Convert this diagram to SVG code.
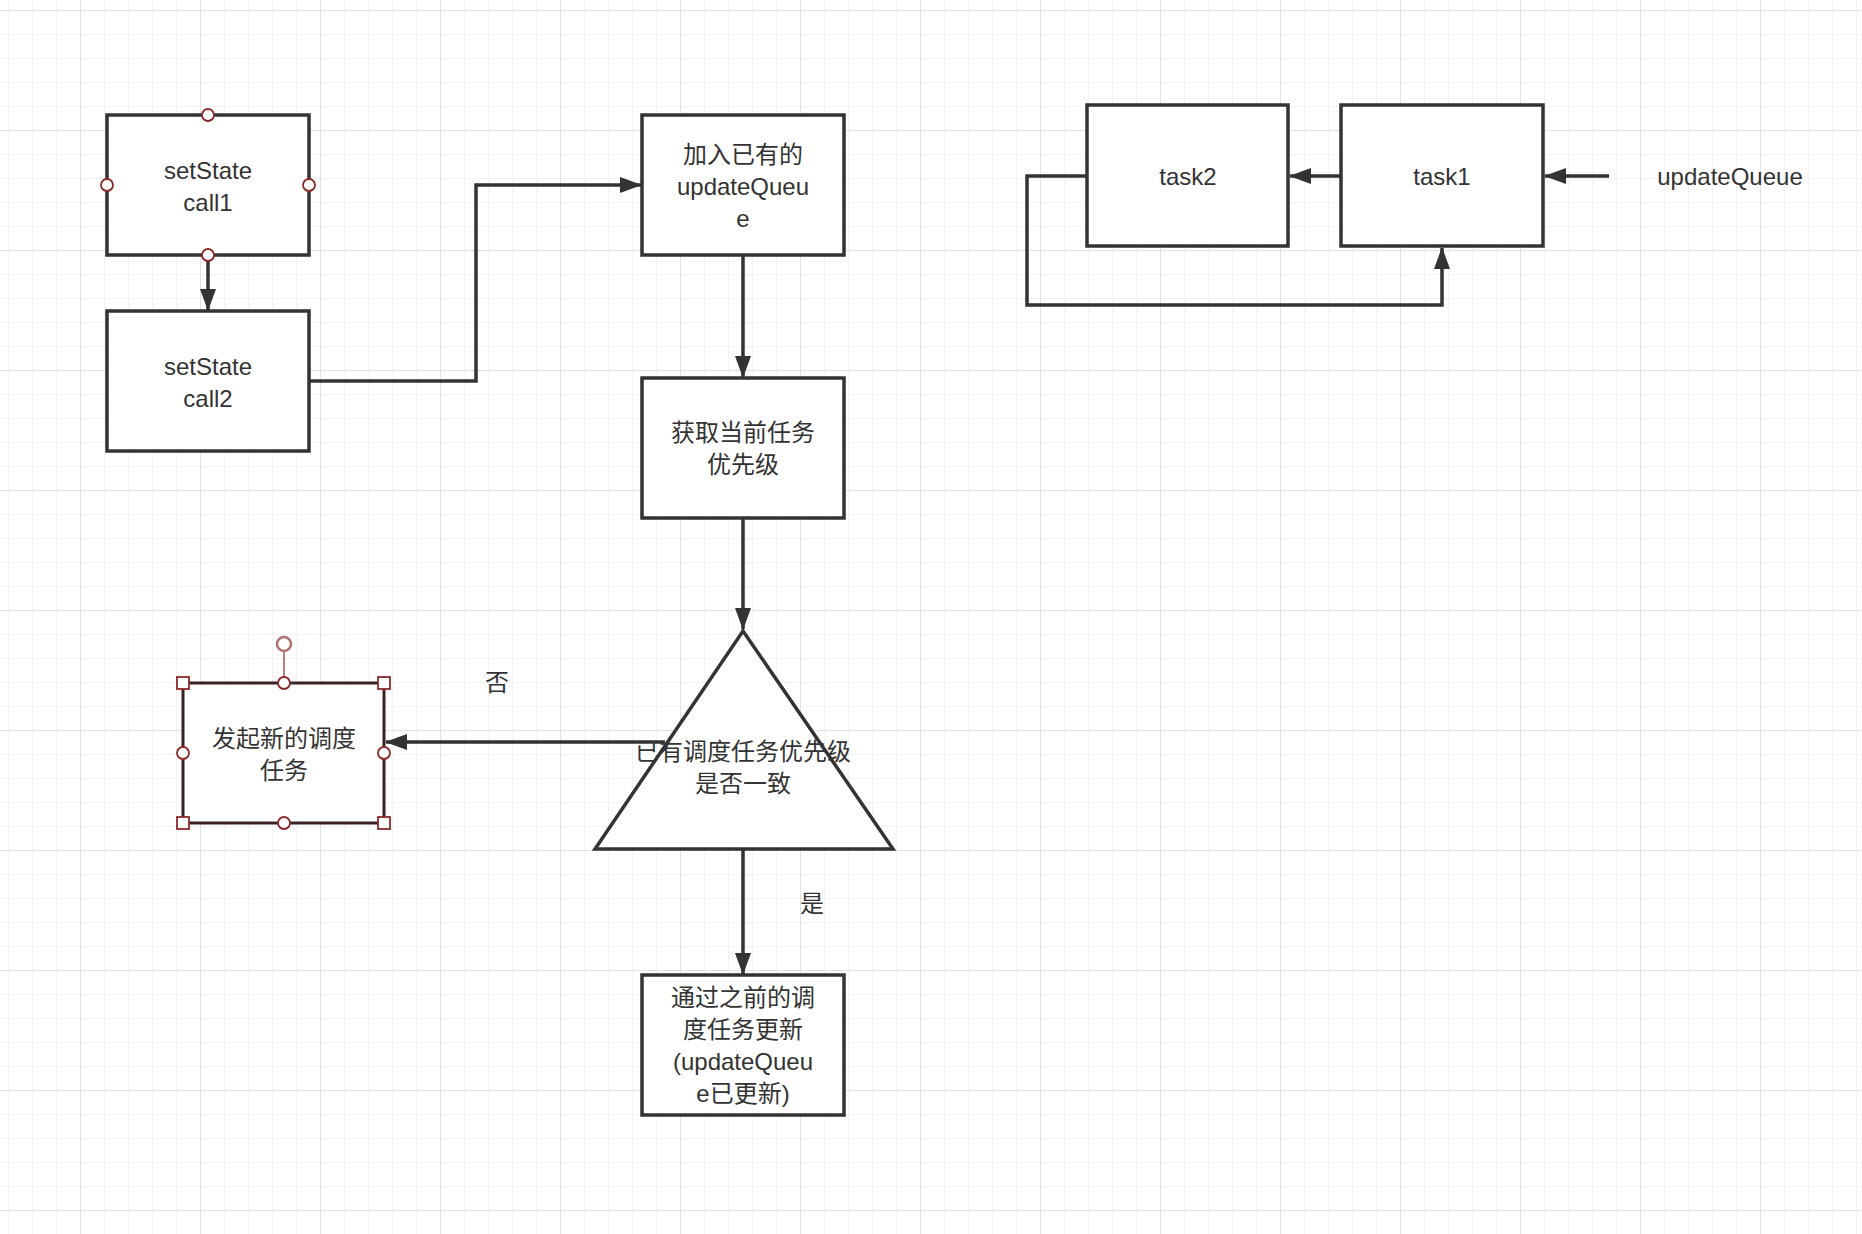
<svg xmlns="http://www.w3.org/2000/svg" width="1862" height="1234" viewBox="0 0 1862 1234">
<defs>
<pattern id="minor" x="8" y="10" width="24" height="24" patternUnits="userSpaceOnUse"><path d="M0 0H24M0 0V24" fill="none" stroke="#f0f0f0" stroke-width="1.5"/></pattern>
<pattern id="major" x="80" y="10" width="120" height="120" patternUnits="userSpaceOnUse"><path d="M0 0H120M0 0V120" fill="none" stroke="#e2e2e2" stroke-width="2"/></pattern>
<marker id="arr" viewBox="0 0 22 16" refX="21" refY="8" markerWidth="22" markerHeight="16" markerUnits="userSpaceOnUse" orient="auto"><path d="M0 0L22 8L0 16Z" fill="#333"/></marker>
</defs>
<style>
.box{fill:#fff;stroke:#333;stroke-width:3.5}
.t{font-family:"Liberation Sans","Noto Sans CJK SC",sans-serif;font-size:24px;fill:#333;text-anchor:middle}
.c{fill:none;stroke:#333;stroke-width:3.5}
.h{fill:#fff;stroke:#8b2a2a;stroke-width:1.8}
</style>
<rect width="1862" height="1234" fill="#fff"/>
<rect width="1862" height="1234" fill="url(#minor)"/>
<rect width="1862" height="1234" fill="url(#major)"/>
<g id="connectors">
<path class="c" d="M208 255V310" marker-end="url(#arr)"/>
<path class="c" d="M309 381H476V185H641" marker-end="url(#arr)"/>
<path class="c" d="M743 255V377" marker-end="url(#arr)"/>
<path class="c" d="M743 518V629" marker-end="url(#arr)"/>
<path class="c" d="M743 849V974" marker-end="url(#arr)"/>
<path class="c" d="M665 742H386" marker-end="url(#arr)"/>
<path class="c" d="M1341 176H1290" marker-end="url(#arr)"/>
<path class="c" d="M1609 176H1545" marker-end="url(#arr)"/>
<path class="c" d="M1087 176H1027V305H1442V248" marker-end="url(#arr)"/>
<text class="t" x="497" y="691">否</text>
<text class="t" x="812" y="912">是</text>
</g>
<g id="call1"><rect class="box" x="107" y="115" width="202" height="140"/><text class="t" x="208" y="179">setState</text><text class="t" x="208" y="211">call1</text>
<circle class="h" cx="208" cy="115" r="6"/><circle class="h" cx="208" cy="255" r="6"/><circle class="h" cx="107" cy="185" r="6"/><circle class="h" cx="309" cy="185" r="6"/></g>
<g id="call2"><rect class="box" x="107" y="311" width="202" height="140"/><text class="t" x="208" y="375">setState</text><text class="t" x="208" y="407">call2</text></g>
<g id="join"><rect class="box" x="642" y="115" width="202" height="140"/><text class="t" x="743" y="163">加入已有的</text><text class="t" x="743" y="195">updateQueu</text><text class="t" x="743" y="227">e</text></g>
<g id="getpri"><rect class="box" x="642" y="378" width="202" height="140"/><text class="t" x="743" y="441">获取当前任务</text><text class="t" x="743" y="473">优先级</text></g>
<g id="decision"><path class="box" d="M743 631L893 849H595Z"/><text class="t" x="743" y="760">已有调度任务优先级</text><text class="t" x="743" y="792">是否一致</text></g>
<g id="newtask"><line x1="284" y1="650" x2="284" y2="683" stroke="#b05050" stroke-width="1.5"/><circle cx="284" cy="644" r="7" fill="#fff" stroke="#b07070" stroke-width="2.5"/>
<rect x="183" y="683" width="201" height="140" fill="#fff" stroke="#3a2222" stroke-width="3"/><text class="t" x="284" y="747">发起新的调度</text><text class="t" x="284" y="779">任务</text>
<rect class="h" x="177" y="677" width="12" height="12"/><rect class="h" x="378" y="677" width="12" height="12"/><rect class="h" x="177" y="817" width="12" height="12"/><rect class="h" x="378" y="817" width="12" height="12"/>
<circle class="h" cx="284" cy="683" r="6"/><circle class="h" cx="284" cy="823" r="6"/><circle class="h" cx="183" cy="753" r="6"/><circle class="h" cx="384" cy="753" r="6"/></g>
<g id="update"><rect class="box" x="642" y="975" width="202" height="140"/><text class="t" x="743" y="1006">通过之前的调</text><text class="t" x="743" y="1038">度任务更新</text><text class="t" x="743" y="1070">(updateQueu</text><text class="t" x="743" y="1102">e已更新)</text></g>
<g id="task2"><rect class="box" x="1087" y="105" width="201" height="141"/><text class="t" x="1188" y="185">task2</text></g>
<g id="task1"><rect class="box" x="1341" y="105" width="202" height="141"/><text class="t" x="1442" y="185">task1</text></g>
<g id="uq"><text class="t" x="1730" y="185">updateQueue</text></g>
</svg>
